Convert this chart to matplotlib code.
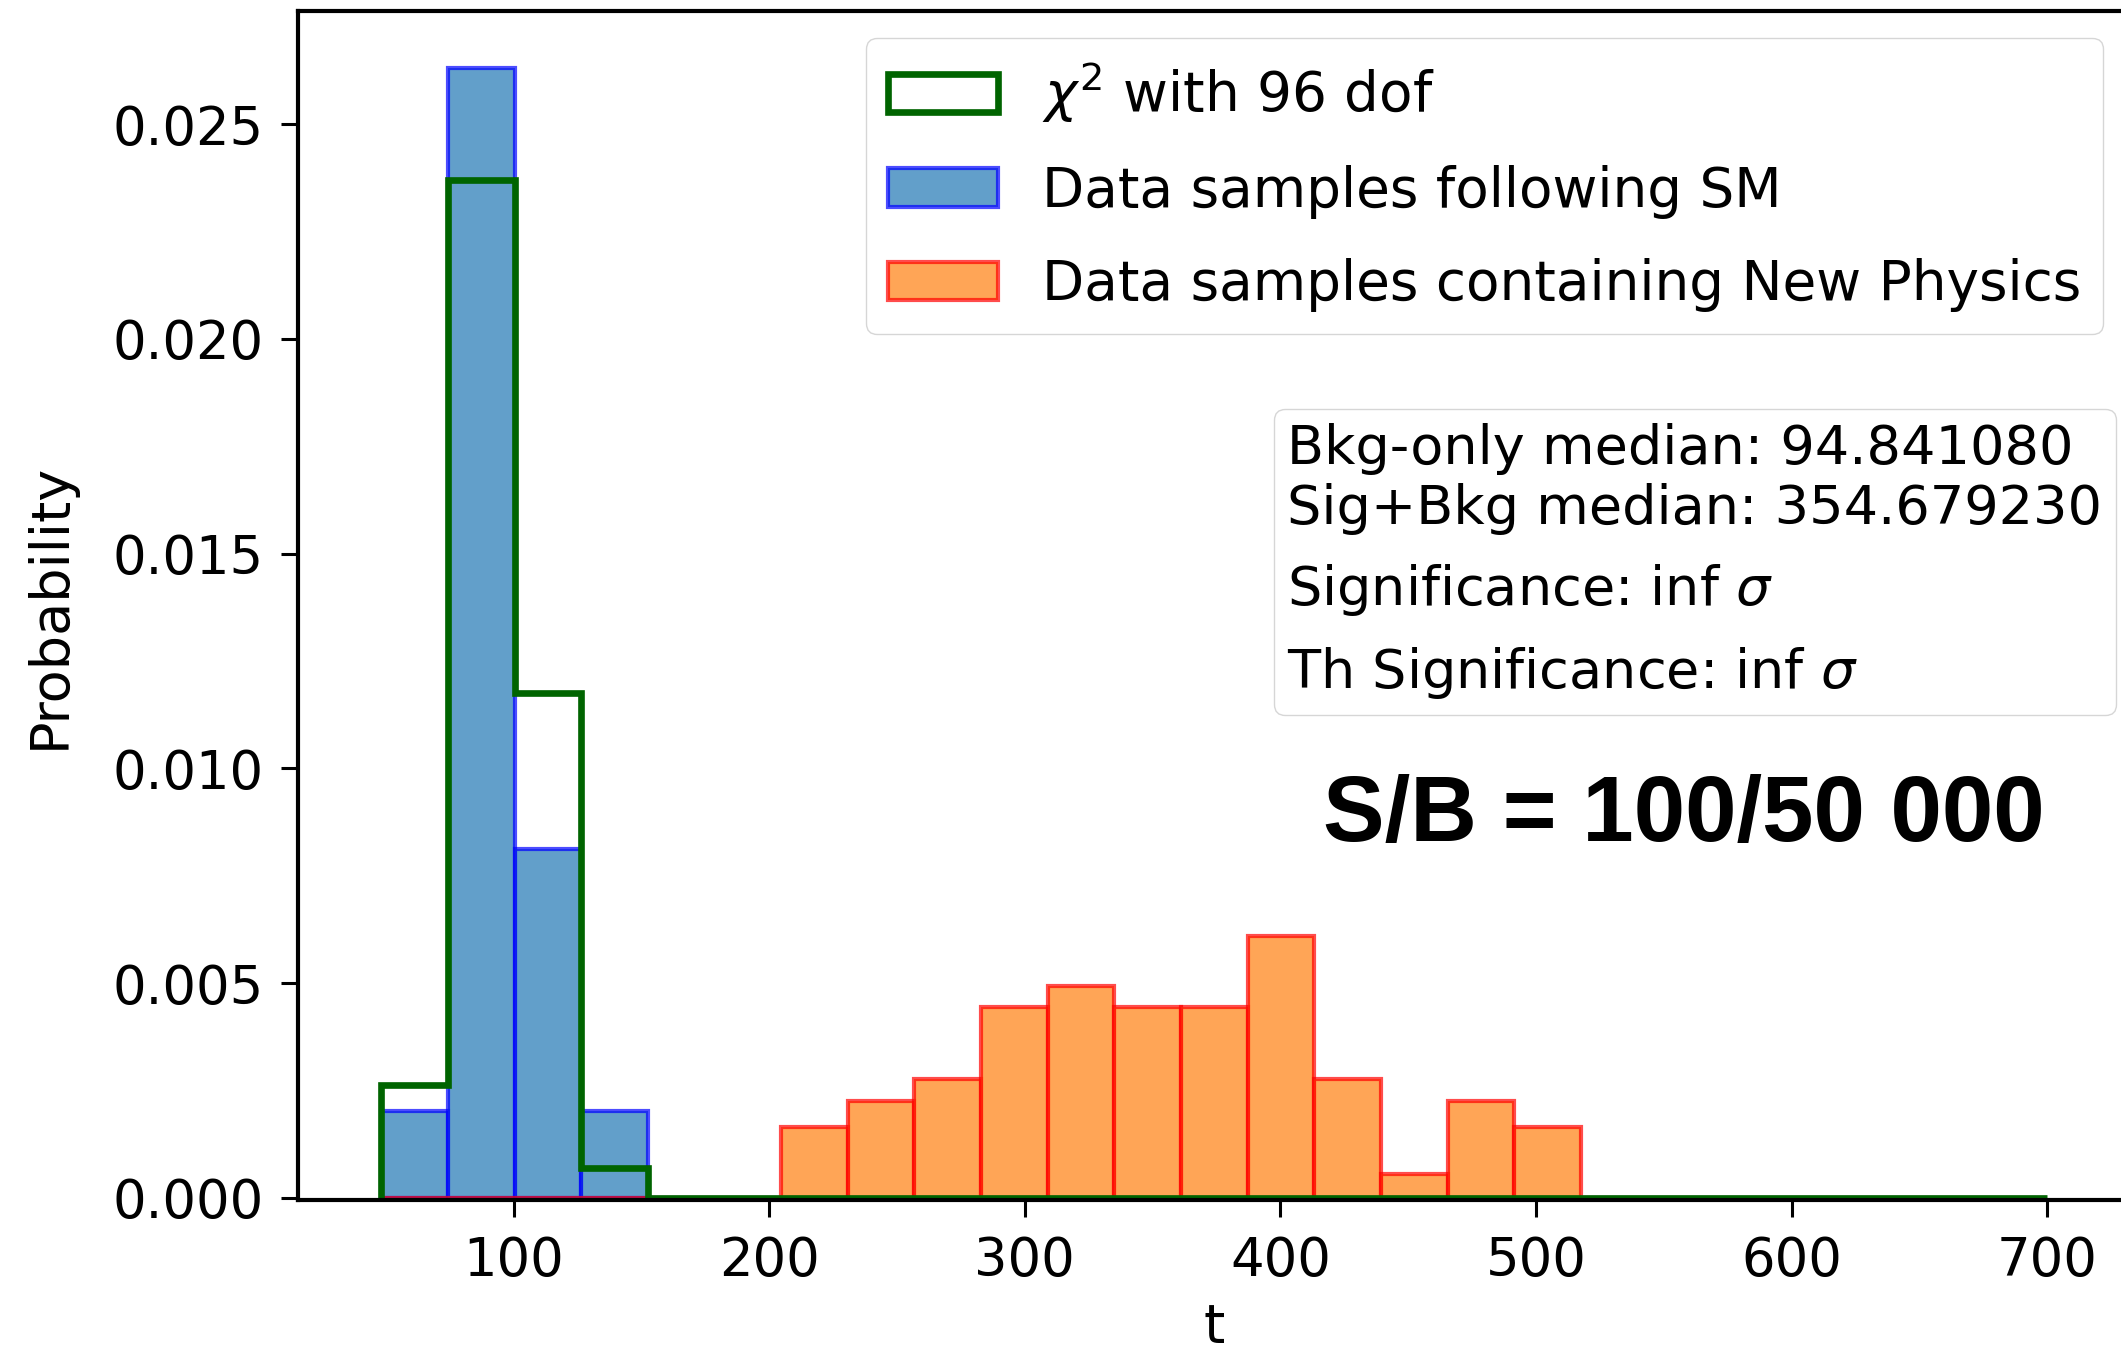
import numpy as np
import matplotlib
matplotlib.use('Agg')
import matplotlib.pyplot as plt
from matplotlib.patches import Rectangle

#%% DATA
bin_lo, bin_hi, n_bins = 48.25, 700.0, 25

# chi2 (96 dof) reference, density per bin
chi2_density = [0.00263, 0.0237, 0.01176, 0.0007, 0.0, 0.0, 0.0, 0.0, 0.0,
                0.0, 0.0, 0.0, 0.0, 0.0, 0.0, 0.0, 0.0, 0.0, 0.0, 0.0,
                0.0, 0.0, 0.0, 0.0, 0.0]
# SM samples occupy bins 0-3
sm_bins = [0, 1, 2, 3]
sm_density = [0.00202, 0.02632, 0.00812, 0.00202]
# New Physics samples occupy bins 6-17
np_bins = [6, 7, 8, 9, 10, 11, 12, 13, 14, 15, 16, 17]
np_density = [0.00166, 0.00226, 0.00278, 0.00444, 0.00494, 0.00444,
              0.00444, 0.00611, 0.00278, 0.00055, 0.00226, 0.00166]

bkg_median = 94.841080
sig_median = 354.679230
sig_text = 'inf'
th_sig_text = 'inf'

fs = 39

#%% PLOT
edges = np.linspace(bin_lo, bin_hi, n_bins + 1)
centers = 0.5 * (edges[:-1] + edges[1:])

fig = plt.figure(figsize=(21.21, 13.58), dpi=100)
ax = fig.add_axes([0.1405, 0.1163, 0.864, 0.8756])

ax.hist(centers, bins=edges, weights=chi2_density, histtype='step',
        color='darkgreen', linewidth=4.8, label=r'$\chi^2$ with 96 dof')
ax.hist(centers[sm_bins], bins=edges, weights=sm_density, color='C0',
        edgecolor='b', alpha=0.7, linewidth=3, label='Data samples following SM')
ax.hist(centers[np_bins], bins=edges, weights=np_density, color='C1',
        edgecolor='r', alpha=0.7, linewidth=3,
        label='Data samples containing New Physics')

# spine sits just under the zero line, as in the original render
ax.set_ylim(-0.00005, max(sm_density) * 1.05)

ax.set_xlabel('t', fontsize=fs, labelpad=10)
ax.set_ylabel('Probability', fontsize=fs, labelpad=26)
ax.tick_params(labelsize=fs - 1, length=12, width=2.2, pad=13)
ax.yaxis.set_major_formatter(matplotlib.ticker.FormatStrFormatter('%.3f'))
for s in ax.spines.values():
    s.set_linewidth(3)

leg1 = ax.legend(loc='upper right', fontsize=fs + 0.5, labelspacing=0.72)
ax.add_artist(leg1)

blank = Rectangle((0, 0), 1, 1, visible=False)
ax.legend([blank, blank],
          ['Significance: %s $\\sigma$' % sig_text,
           'Th Significance: %s $\\sigma$' % th_sig_text],
          title='Bkg-only median: %f\nSig+Bkg median: %f' % (bkg_median, sig_median),
          loc='upper left', bbox_to_anchor=(0.5325, 0.665), borderaxespad=0,
          borderpad=0.25, handlelength=0, handletextpad=0, fontsize=fs,
          title_fontsize=fs, alignment='left')

fig.text(0.6238, 0.3807, 'S/B = 100/50 000', fontsize=66.5, fontweight='bold',
         family=['Liberation Sans', 'DejaVu Sans'], va='baseline', ha='left')

fig.savefig('out.png', dpi=100)
